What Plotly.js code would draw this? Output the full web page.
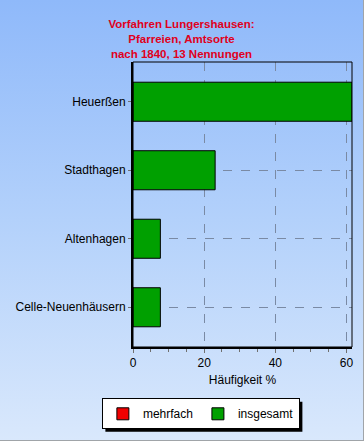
<!DOCTYPE html>
<html>
<head>
<meta charset="utf-8">
<script src="https://cdn.plot.ly/plotly-3.0.1.min.js"></script>
<style>
html,body{margin:0;padding:0;}
#wrap{position:absolute;left:0;top:0;width:364px;height:441px;box-sizing:border-box;border-right:1px solid #a0a4a8;border-bottom:1px solid #a0a4a8;background:linear-gradient(to bottom,#8fb9fa 0%,#b3d1fb 50%,#d9e8fc 100%);}
#chart{width:363px;height:440px;}
</style>
</head>
<body>
<div id="wrap"><div id="chart"></div></div>
<script>
const categories = ["Heuerßen", "Stadthagen", "Altenhagen", "Celle-Neuenhäusern"];
const mehrfach = [0, 0, 0, 0];
const insgesamt = [61.54, 23.08, 7.69, 7.69];
const xTicks = [0, 20, 40, 60];
const titleText = "Vorfahren Lungershausen:<br>Pfarreien, Amtsorte<br>nach 1840, 13 Nennungen";

const font = "Liberation Sans, Arial, sans-serif";
const traces = [
  {type: "bar", orientation: "h", name: "mehrfach", y: categories, x: mehrfach,
   marker: {color: "#f00000", line: {color: "#000", width: 1}}, width: 0.57},
  {type: "bar", orientation: "h", name: "insgesamt", y: categories, x: insgesamt,
   marker: {color: "#00a000", line: {color: "#000", width: 1}}, width: 0.57}
];
const layout = {
  width: 363, height: 440,
  margin: {l: 133, r: 11, t: 62, b: 93},
  paper_bgcolor: "rgba(0,0,0,0)", plot_bgcolor: "rgba(0,0,0,0)",
  font: {family: font, size: 12, color: "#000"},
  barmode: "overlay",
  showlegend: true,
  title: {text: titleText, font: {family: font, size: 11.5, color: "#e00020", weight: "bold"},
          x: 0.5, xref: "container", y: 1 - 28/440, yref: "container", yanchor: "top"},
  xaxis: {range: [0, 61.54], tickvals: xTicks, ticktext: xTicks.map(String),
          showgrid: true, gridcolor: "#7a8aa4", griddash: "dash", gridwidth: 1,
          zeroline: false, showline: true, linecolor: "#000", linewidth: 2,
          ticks: "outside", ticklen: 4, tickcolor: "#707070",
          minor: {dtick: 5, ticks: "outside", ticklen: 3, tickcolor: "#707070", showgrid: false},
          tickfont: {size: 12}, fixedrange: true,
          title: {text: "Häufigkeit %", font: {size: 12}, standoff: 6}},
  yaxis: {type: "category", range: [3.58, -0.58],
          showgrid: true, gridcolor: "#7a8aa4", griddash: "dash", gridwidth: 1,
          showline: true, linecolor: "#000", linewidth: 2,
          ticks: "outside", ticklen: 3, tickcolor: "#707070",
          tickfont: {size: 12}, fixedrange: true},
  legend: {orientation: "h", x: 0.31, xanchor: "center", y: -0.18, yanchor: "top",
           bgcolor: "#ffffff", bordercolor: "#000", borderwidth: 1,
           font: {size: 12}, traceorder: "normal", itemwidth: 30, entrywidth: 0},
  shapes: [
    {type: "rect", xref: "paper", yref: "paper", x0: 0, x1: 1, y0: 0, y1: 1,
     line: {color: "#000", width: 1}, layer: "above"}
  ]
};
Plotly.newPlot("chart", traces, layout, {displayModeBar: false, staticPlot: true}).then(function(gd){
  // drop shadow behind the legend box, sized from the rendered legend
  const bg = gd.querySelector(".legend .bg");
  if (!bg) return;
  const r = bg.getBoundingClientRect();
  const c = gd.getBoundingClientRect();
  const m = gd._fullLayout._size;
  const toX = px => (px - c.left - m.l) / m.w;
  const toY = py => 1 - (py - c.top - m.t) / m.h;
  const shapes = layout.shapes.concat([{
    type: "rect", xref: "paper", yref: "paper",
    x0: toX(r.left + 3), x1: toX(r.right + 3), y0: toY(r.bottom + 3), y1: toY(r.top + 3),
    fillcolor: "#000", line: {width: 0}, layer: "above"
  }]);
  return Plotly.relayout(gd, {shapes: shapes});
});
</script>
</body>
</html>
